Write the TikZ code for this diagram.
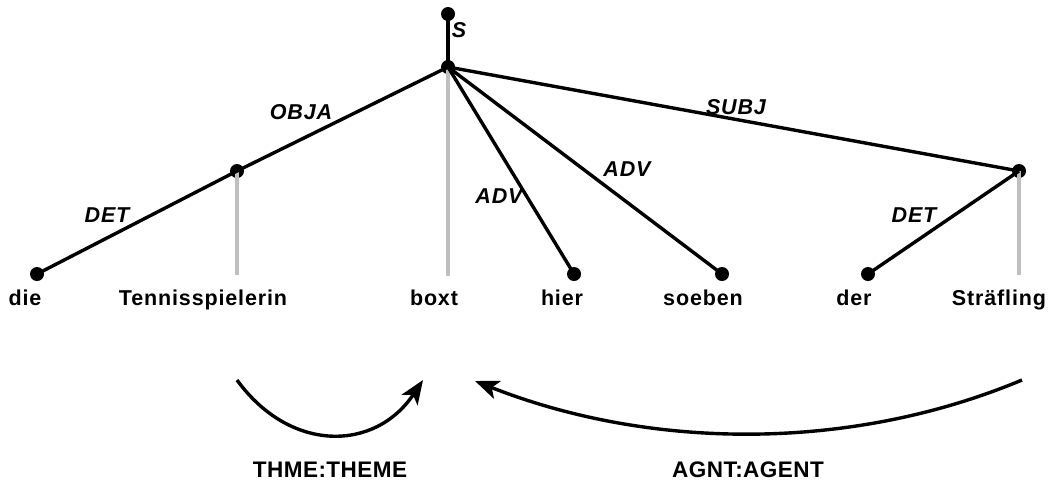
\documentclass[tikz,border=0pt]{standalone}
\usepackage{fontspec}
\setmainfont{Liberation Sans}
\newfontfamily\wordfont{Liberation Sans}[LetterSpace=4]
\newfontfamily\rolefont{Liberation Sans}[LetterSpace=2]
\usetikzlibrary{arrows.meta}
\definecolor{treegray}{gray}{0.75}
\tikzset{
  dot/.style={circle, fill=black, inner sep=0pt, minimum size=14pt},
  branch/.style={line width=3.4pt, black},
  headline/.style={line width=3.4pt, treegray},
  word/.style={anchor=base, inner sep=0pt, font=\wordfont\bfseries\fontsize{21.5}{25}\selectfont},
  edgelabel/.style={inner sep=0pt, font=\wordfont\bfseries\itshape\fontsize{21.5}{25}\selectfont},
  role/.style={anchor=base, inner sep=0pt, font=\rolefont\bfseries\fontsize{22.5}{26}\selectfont},
  relarrow/.style={line width=3.4pt, -{Stealth[length=24pt,width=19pt,inset=6pt]}},
}
\begin{document}
\begin{tikzpicture}[x=1pt,y=-1pt]
\useasboundingbox (0,0) rectangle (1048,483);

% tree nodes
\node[dot] (top)    at (448,14)  {};
\node[dot] (root)   at (448,67)  {};
\node[dot] (tnode)  at (237,171) {};
\node[dot] (snode)  at (1019,171) {};
\node[dot] (die)    at (37,274)  {};
\node[dot] (hier)   at (574,274) {};
\node[dot] (soeben) at (722,274) {};
\node[dot] (der)    at (868,274) {};

% ends of the head lines
\coordinate (tfoot) at (237,275);
\coordinate (bfoot) at (448,276);
\coordinate (sfoot) at (1019,275);

% head lines (gray)
\draw[headline] (tnode.center) -- (tfoot);
\draw[headline] (root.center) -- (bfoot);
\draw[headline] (snode.center) -- (sfoot);

% dependency branches
\draw[branch] (top.center) -- (root.center);
\draw[branch] (root.center) -- (tnode.center);
\draw[branch] (root.center) -- (snode.center);
\draw[branch] (root.center) -- (hier.center);
\draw[branch] (root.center) -- (soeben.center);
\draw[branch] (tnode.center) -- (die.center);
\draw[branch] (snode.center) -- (der.center);

% edge labels
\node[edgelabel] (lS)    at (459,30)  {S};
\node[edgelabel] (lobja) at (301,112) {OBJA};
\node[edgelabel] (lsubj) at (736,107) {SUBJ};
\node[edgelabel] (ldet1) at (107,215) {DET};
\node[edgelabel] (ladv1) at (499,196) {ADV};
\node[edgelabel] (ladv2) at (627,169) {ADV};
\node[edgelabel] (ldet2) at (914,215) {DET};

% words
\node[word] (wdie)    at (25,305)  {die};
\node[word] (wtennis) at (203,305) {Tennisspielerin};
\node[word] (wboxt)   at (434,305) {boxt};
\node[word] (whier)   at (562,305) {hier};
\node[word] (wsoeben) at (703,305) {soeben};
\node[word] (wder)    at (854,305) {der};
\node[word] (wstr)    at (999,305) {Sträfling};

% semantic role arrows
\coordinate (thA) at (237,380);
\coordinate (thB) at (423,380);
\coordinate (agA) at (1022,380);
\coordinate (agB) at (475,381);
\draw[relarrow] (thA) .. controls (290,453) and (375,452) .. (thB);
\draw[relarrow] (agA) .. controls (850,452) and (650,450) .. (agB);

\node[role] (rtheme) at (330,477) {THME:THEME};
\node[role] (ragent) at (748,477) {AGNT:AGENT};
\end{tikzpicture}
\end{document}
